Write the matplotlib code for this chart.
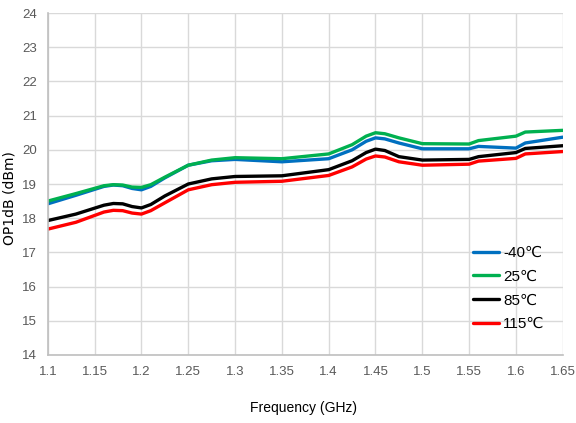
import matplotlib
matplotlib.use("Agg")
import matplotlib.pyplot as plt

# ── Data ──────────────────────────────────────────────────────────────────────
freq = [1.10, 1.13, 1.16, 1.17, 1.18, 1.19, 1.20, 1.21, 1.225, 1.25, 1.275,
        1.30, 1.35, 1.40, 1.425, 1.44, 1.45, 1.46, 1.475, 1.50, 1.55, 1.56,
        1.60, 1.61, 1.65]

p1db_m40 = [18.42, 18.67, 18.93, 18.97, 18.95, 18.87, 18.83, 18.93, 19.18, 19.55, 19.68,
            19.72, 19.65, 19.74, 20.00, 20.25, 20.35, 20.32, 20.20, 20.03, 20.03, 20.10,
            20.05, 20.20, 20.37]
p1db_25 = [18.50, 18.72, 18.95, 18.98, 18.97, 18.91, 18.90, 18.98, 19.20, 19.55, 19.70,
           19.77, 19.74, 19.88, 20.15, 20.40, 20.50, 20.47, 20.35, 20.18, 20.17, 20.27,
           20.40, 20.52, 20.57]
p1db_85 = [17.93, 18.12, 18.38, 18.43, 18.42, 18.34, 18.30, 18.40, 18.65, 19.00, 19.15,
           19.22, 19.24, 19.42, 19.68, 19.92, 20.02, 19.98, 19.80, 19.70, 19.72, 19.80,
           19.92, 20.04, 20.12]
p1db_115 = [17.68, 17.88, 18.18, 18.23, 18.22, 18.15, 18.12, 18.22, 18.45, 18.83, 18.98,
            19.05, 19.08, 19.25, 19.50, 19.73, 19.82, 19.79, 19.65, 19.55, 19.58, 19.67,
            19.75, 19.88, 19.95]

labels = ["-40\u2103", "25\u2103", "85\u2103", "115\u2103"]
colors = ["#0070c0", "#00b050", "#000000", "#ff0000"]

xticks = [1.1, 1.15, 1.2, 1.25, 1.3, 1.35, 1.4, 1.45, 1.5, 1.55, 1.6, 1.65]
yticks = list(range(14, 25))

# ── Figure ────────────────────────────────────────────────────────────────────
NARROW = ["DejaVu Sans Condensed", "Liberation Sans Narrow", "Liberation Sans", "DejaVu Sans"]
plt.rcParams["font.family"] = NARROW

fig = plt.figure(figsize=(5.76, 4.23), dpi=100)
ax = fig.add_axes([0.083, 0.161, 0.894, 0.808])

for series, lab, col in zip([p1db_m40, p1db_25, p1db_85, p1db_115], labels, colors):
    ax.plot(freq, series, color=col, linewidth=2.4, label=lab,
            solid_joinstyle="round", solid_capstyle="round")

ax.set_xlim(1.1, 1.65)
ax.set_ylim(14, 24)
ax.set_xticks(xticks)
ax.set_xticklabels([f"{t:g}" for t in xticks])
ax.set_yticks(yticks)
ax.grid(True, color="#d9d9d9", linewidth=1)
ax.set_axisbelow(True)
for side in ["top", "right"]:
    ax.spines[side].set_visible(False)
for side in ["left", "bottom"]:
    ax.spines[side].set_color("#bfbfbf")
    ax.spines[side].set_linewidth(1.2)
ax.tick_params(length=0, labelsize=9.5, colors="#595959", pad=8)

ax.set_xlabel("Frequency (GHz)", fontsize=10, color="#000000")
ax.xaxis.set_label_coords(0.497, -0.134)
ax.set_ylabel("OP1dB (dBm)", fontsize=10, color="#000000",
              family="DejaVu Sans")
ax.yaxis.set_label_coords(-0.06, 0.46)

ax.legend(loc="center left", bbox_to_anchor=(0.825, 0.194), frameon=False,
          fontsize=11, handlelength=1.75, handletextpad=0.25, labelspacing=0.63,
          borderaxespad=0, borderpad=0)

plt.savefig("out.png", dpi=100)
